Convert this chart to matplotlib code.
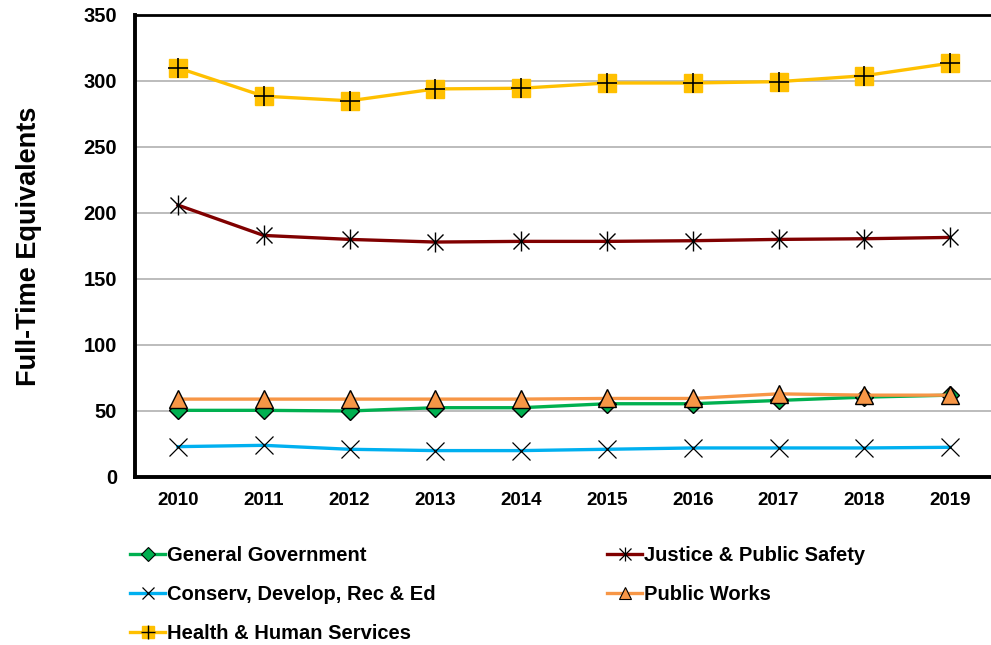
import numpy as np
import matplotlib.pyplot as plt
from matplotlib.lines import Line2D

plt.rcParams['font.family'] = ['Liberation Sans', 'DejaVu Sans']
plt.rcParams['font.weight'] = 'bold'

years = ['2010', '2011', '2012', '2013', '2014', '2015', '2016', '2017', '2018', '2019']

general_gov = [50.5, 50.5, 50, 52.5, 52.5, 55.5, 55.5, 58, 60.5, 62]
justice = [206, 183, 180, 178, 178.5, 178.5, 179, 180, 180.5, 181.5]
conserv = [23, 24, 21, 20, 20, 21, 22, 22, 22, 22.5]
public_works = [59, 59, 59, 59, 59, 59.5, 59.5, 63, 62, 62]
health = [310, 288.5, 285, 294, 294.5, 298.5, 298.5, 299.5, 304, 313.5]

GREEN = '#00B050'
DARKRED = '#800000'
BLUE = '#00B0F0'
ORANGE = '#F79646'
GOLD = '#FFC000'

x = np.arange(len(years))

fig = plt.figure(figsize=(9.91, 6.45), dpi=100)
ax = fig.add_axes([135 / 991, 1 - 477 / 645, 858 / 991, 462 / 645])

lw = 2.4
ax.plot(x, general_gov, color=GREEN, lw=lw, marker='D', ms=9.5,
        mfc=GREEN, mec='black', mew=1.0, zorder=3)
ax.plot(x, justice, color=DARKRED, lw=lw, zorder=3)
ax.plot(x, justice, ls='none', marker='x', ms=12, mec='black', mew=1.0, zorder=4)
ax.plot(x, justice, ls='none', marker='|', ms=14, mec='black', mew=1.0, zorder=4)
ax.plot(x, conserv, color=BLUE, lw=lw, zorder=3)
ax.plot(x, conserv, ls='none', marker='x', ms=13, mec='black', mew=0.9, zorder=4)
ax.plot(x, public_works, color=ORANGE, lw=lw, marker='^', ms=13.5,
        mfc=ORANGE, mec='black', mew=1.0, zorder=5)
ax.plot(x, health, color=GOLD, lw=lw, marker='s', ms=13,
        mfc=GOLD, mec=GOLD, zorder=6)
ax.plot(x, health, ls='none', marker='+', ms=14, mec='black', mew=1.2, zorder=7)

ax.set_xlim(-0.5, len(years) - 0.5)
ax.set_ylim(0, 350)
ax.set_yticks(np.arange(0, 351, 50))
ax.set_xticks(x)
ax.set_xticklabels(years)
ax.tick_params(axis='both', length=0)
ax.tick_params(axis='y', pad=13, labelsize=14.5)
ax.tick_params(axis='x', pad=11, labelsize=13.5)
for lbl in ax.get_xticklabels() + ax.get_yticklabels():
    lbl.set_fontweight('bold')

ax.grid(axis='y', color='#B0B0B0', lw=1.2)
ax.set_axisbelow(True)
for side in ['left', 'bottom']:
    ax.spines[side].set_linewidth(2.8)
    ax.spines[side].set_color('black')
ax.spines['top'].set_linewidth(2.0)
ax.spines['right'].set_visible(False)

ax.set_ylabel('Full-Time Equivalents', fontsize=19.5, fontweight='bold', labelpad=30)

# legend handles, marker symbols drawn smaller than in the plot
h_gg = Line2D([], [], color=GREEN, lw=lw, marker='D', ms=7, mfc=GREEN, mec='black', mew=0.8)
h_jps = (Line2D([], [], color=DARKRED, lw=lw),
         Line2D([], [], ls='none', marker='x', ms=8, mec='black', mew=0.9),
         Line2D([], [], ls='none', marker='|', ms=10, mec='black', mew=0.9))
h_cdre = (Line2D([], [], color=BLUE, lw=lw),
          Line2D([], [], ls='none', marker='x', ms=9, mec='black', mew=0.9))
h_pw = Line2D([], [], color=ORANGE, lw=lw, marker='^', ms=9, mfc=ORANGE, mec='black', mew=0.8)
h_hhs = (Line2D([], [], color=GOLD, lw=lw, marker='s', ms=9, mfc=GOLD, mec=GOLD),
         Line2D([], [], ls='none', marker='+', ms=10, mec='black', mew=1.0))

handles = [h_gg, h_cdre, h_hhs, h_jps, h_pw]
labels = ['General Government', 'Conserv, Develop, Rec & Ed', 'Health & Human Services',
          'Justice & Public Safety', 'Public Works']
fig.legend(handles, labels, ncol=2, loc='upper left', bbox_to_anchor=(112 / 991, 1 - 528 / 645),
           frameon=False, prop={'size': 14.5, 'weight': 'bold'},
           handlelength=1.75, handletextpad=0.1, columnspacing=8.5, labelspacing=1.0)

fig.savefig('out.png', dpi=100)
